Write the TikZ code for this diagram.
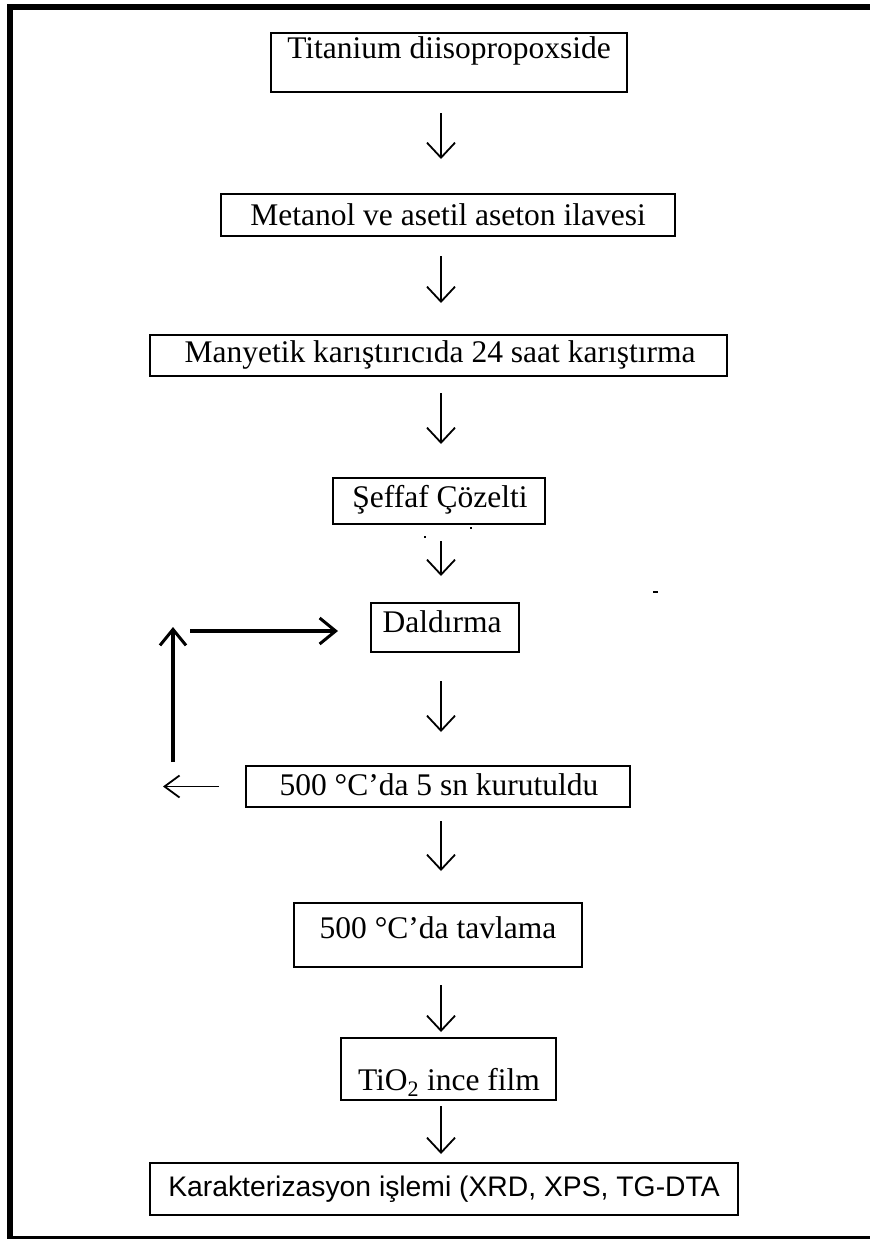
\documentclass[tikz,border=0pt]{standalone}
\usepackage{fontspec}
\setmainfont{Liberation Serif}
\newfontfamily\arialfont{Liberation Sans}
\usetikzlibrary{arrows.meta,calc}
\begin{document}
\begin{tikzpicture}[x=1pt,y=-1pt,
  box/.style={draw=black, line width=2pt, rectangle, inner sep=0pt},
  txt/.style={inner sep=0pt, font=\fontsize{31.5}{38}\selectfont},
  flow/.style={line width=1.8pt, -{Straight Barb[length=15pt,width=28pt,line width=1.8pt]}},
  loop/.style={line width=3.5pt, -{Straight Barb[length=16pt,width=26pt,line width=3pt]}},
  back/.style={line width=1.8pt, -{Straight Barb[length=15pt,width=22pt,line width=1.8pt]}}]
\useasboundingbox (0,0) rectangle (870,1239);
\fill[white] (0,0) rectangle (870,1239);
% outer frame
\fill[black] (7,4) rectangle (870,10);
\fill[black] (7,4) rectangle (13,1239);
\fill[black] (7,1236) rectangle (870,1239);

% process boxes
\node[box, minimum width=356, minimum height=59] (ti) at (449,62.5) {};
\node[txt] (tit) at (449,51) {Titanium diisopropoxside};

\node[box, minimum width=454, minimum height=42] (met) at (448,215) {};
\node[txt] (mett) at (448,215) {Metanol ve asetil aseton ilavesi};

\node[box, minimum width=577, minimum height=41] (man) at (438.5,355.5) {};
\node[txt] (mant) at (440,355) {Manyetik karıştırıcıda 24 saat karıştırma};

\node[box, minimum width=212, minimum height=46] (sef) at (439,501) {};
\node[txt] (seft) at (440,500) {Şeffaf Çözelti};

\node[box, minimum width=148, minimum height=49] (dal) at (445,627.5) {};
\node[txt] (dalt) at (442,622) {Daldırma};

\node[box, minimum width=384, minimum height=41] (kur) at (438,786.5) {};
\node[txt] (kurt) at (439,785) {500 °C’da 5 sn kurutuldu};

\node[box, minimum width=288, minimum height=64] (tav) at (437.5,935) {};
\node[txt] (tavt) at (438,928) {500 °C’da tavlama};

\node[box, minimum width=215, minimum height=62] (tio) at (448.5,1069) {};
\node[txt] (tiot) at (449,1082) {TiO\textsubscript{2} ince film};

\node[box, minimum width=588, minimum height=52] (kar) at (444,1189) {};
\node[txt, font=\arialfont\fontsize{28.3}{34}\selectfont] (kart) at (444,1189) {Karakterizasyon işlemi (XRD, XPS, TG-DTA};

% main flow, all arrows on one vertical axis
\coordinate (axis) at (441,0);
\draw[flow] ($(axis |- ti.south)+(0,20)$) -- ($(axis |- met.north)+(0,-34)$);
\draw[flow] ($(axis |- met.south)+(0,19)$) -- ($(axis |- man.north)+(0,-31)$);
\draw[flow] ($(axis |- man.south)+(0,16)$) -- ($(axis |- sef.north)+(0,-33)$);
\draw[flow] ($(axis |- sef.south)+(0,16)$) -- ($(axis |- dal.north)+(0,-26)$);
\draw[flow] ($(axis |- dal.south)+(0,28)$) -- ($(axis |- kur.north)+(0,-33)$);
\draw[flow] ($(axis |- kur.south)+(0,13)$) -- ($(axis |- tav.north)+(0,-31)$);
\draw[flow] ($(axis |- tav.south)+(0,17)$) -- ($(axis |- tio.north)+(0,-5)$);
\draw[flow, line width=1.4pt] ($(axis |- tio.south)+(0,5)$) -- ($(axis |- kar.north)+(0,-8)$);

% repeat loop
\coordinate (lb) at (163,786);
\coordinate (vb) at (173,762);
\coordinate (vt) at (173,627);
\coordinate (hl) at (190,631);
\draw[back] ($(kur.west)+(-26,0)$) -- (lb |- kur.west);
\draw[loop] (vb) -- (vt);
\draw[loop] (hl) -- (hl -| {$(dal.west)+(-32,0)$});

% small marks
\fill (424,536) rectangle (426,538);
\fill (470,527) rectangle (472,529);
\fill (653,591) rectangle (658,593);
\end{tikzpicture}
\end{document}
